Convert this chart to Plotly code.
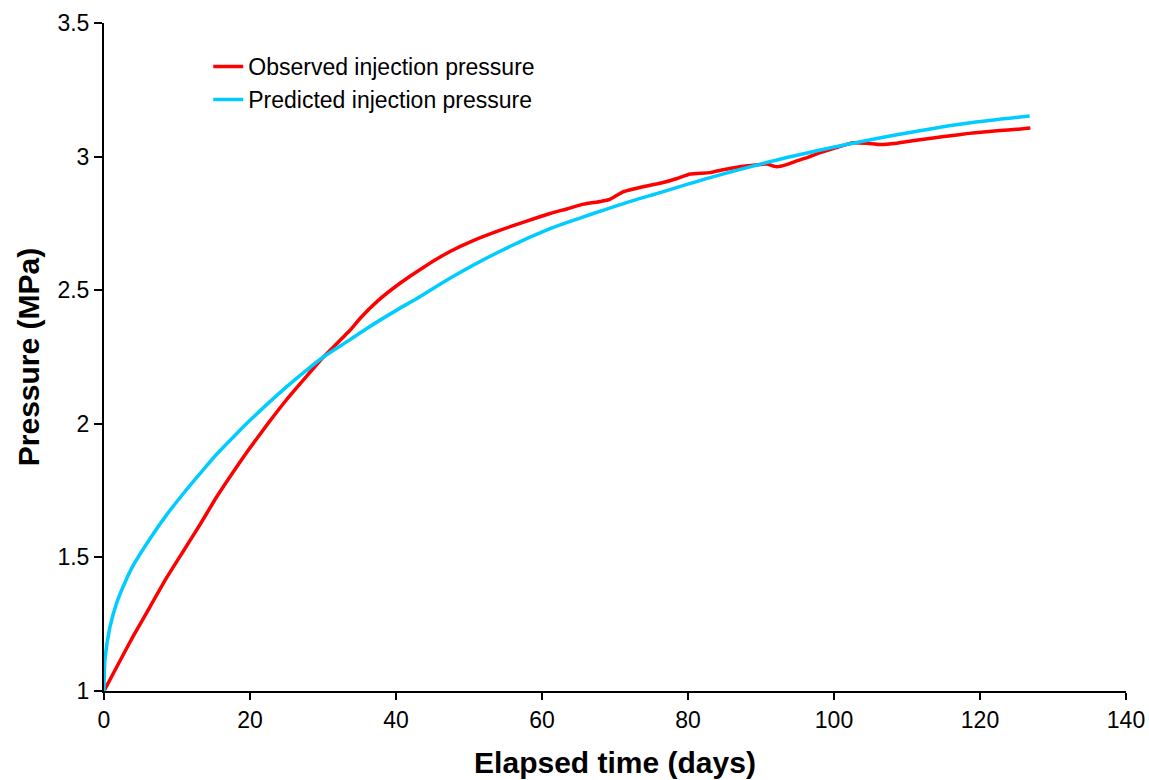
import plotly.graph_objects as go

# Observed injection pressure
obs_days = [0, 1.74, 4.0, 6.3, 8.6, 10.9, 13.2, 15.4, 17.7, 20, 22.3, 25, 27.5, 30, 33.7, 35.1,
            37.5, 40.5, 44, 47.4, 50.5, 54.2, 57.5, 61.1, 63.5, 65.7, 68, 69.3, 71.1, 74, 76.6,
            78.5, 80.3, 83, 85, 87.1, 89, 90.8, 92.1, 93.5, 94.9, 96.5, 98.1, 100.5, 102.6, 104.5,
            106.3, 108.6, 111, 113.6, 116, 118.2, 120.5, 122.7, 125, 126.9]
obs_pres = [1.0, 1.09, 1.205, 1.315, 1.425, 1.525, 1.625, 1.725, 1.82, 1.91, 1.995, 2.09, 2.17,
            2.248, 2.35, 2.395, 2.46, 2.525, 2.59, 2.645, 2.685, 2.724, 2.755, 2.787, 2.805, 2.822,
            2.832, 2.84, 2.868, 2.888, 2.903, 2.918, 2.935, 2.94, 2.952, 2.962, 2.968, 2.972, 2.962,
            2.97, 2.984, 2.998, 3.015, 3.035, 3.052, 3.05, 3.045, 3.05, 3.06, 3.07, 3.078, 3.086,
            3.092, 3.098, 3.102, 3.107]

# Predicted injection pressure
pred_days = [0, 0.14, 0.82, 1.74, 3.1, 4.0, 6.3, 8.6, 10.9, 13.2, 15.4, 17.7, 20, 22.7, 25, 27.5,
             30, 33.7, 36, 40.5, 42.8, 47.4, 54.2, 61.1, 65.2, 67.9, 73, 74.3, 83.5, 92.6, 101.7,
             108.8, 118.2, 126.8]
pred_pres = [1.0, 1.12, 1.24, 1.33, 1.42, 1.47, 1.57, 1.66, 1.74, 1.815, 1.885, 1.95, 2.013, 2.082,
             2.138, 2.195, 2.249, 2.315, 2.357, 2.432, 2.468, 2.545, 2.645, 2.73, 2.77, 2.795, 2.84,
             2.85, 2.925, 2.99, 3.045, 3.083, 3.125, 3.152]

x_ticks = [0, 20, 40, 60, 80, 100, 120, 140]
y_ticks = [1, 1.5, 2, 2.5, 3, 3.5]
y_tick_text = ["1", "1.5", "2", "2.5", "3", "3.5"]

fig = go.Figure()
fig.add_trace(go.Scatter(x=obs_days, y=obs_pres, mode="lines", name="Observed injection pressure",
                         line=dict(color="#FF0000", width=3.5, shape="spline", smoothing=0.4)))
fig.add_trace(go.Scatter(x=pred_days, y=pred_pres, mode="lines", name="Predicted injection pressure",
                         line=dict(color="#00CCFF", width=3.5, shape="spline", smoothing=0.8)))

font_family = "Liberation Sans, Arial, sans-serif"
fig.update_layout(
    width=1149, height=780,
    margin=dict(l=104, r=23, t=23, b=89, autoexpand=False),
    paper_bgcolor="white", plot_bgcolor="white",
    font=dict(family=font_family, color="black", size=23),
    showlegend=True,
    legend=dict(x=0.102, y=0.967, xanchor="left", yanchor="top",
                font=dict(size=23, family=font_family, color="black"),
                bgcolor="rgba(0,0,0,0)", tracegroupgap=0, itemwidth=30),
    xaxis=dict(range=[0, 140], tickvals=x_ticks, showgrid=False, zeroline=False, automargin=False,
               showline=True, linecolor="black", linewidth=2, ticks="outside",
               ticklen=7, tickwidth=2, tickcolor="black",
               tickfont=dict(size=23, family=font_family),
               title=dict(text="<b>Elapsed time (days)</b>", font=dict(size=30, family=font_family),
                          standoff=20)),
    yaxis=dict(range=[1, 3.5], tickvals=y_ticks, ticktext=y_tick_text, showgrid=False,
               zeroline=False, automargin=False, showline=True, linecolor="black", linewidth=2,
               ticks="outside", ticklen=8, tickwidth=2, tickcolor="black",
               tickfont=dict(size=23, family=font_family),
               title=dict(text="<b>Pressure (MPa)</b>", font=dict(size=30, family=font_family),
                          standoff=9)),
)

fig.write_html("out.html")
